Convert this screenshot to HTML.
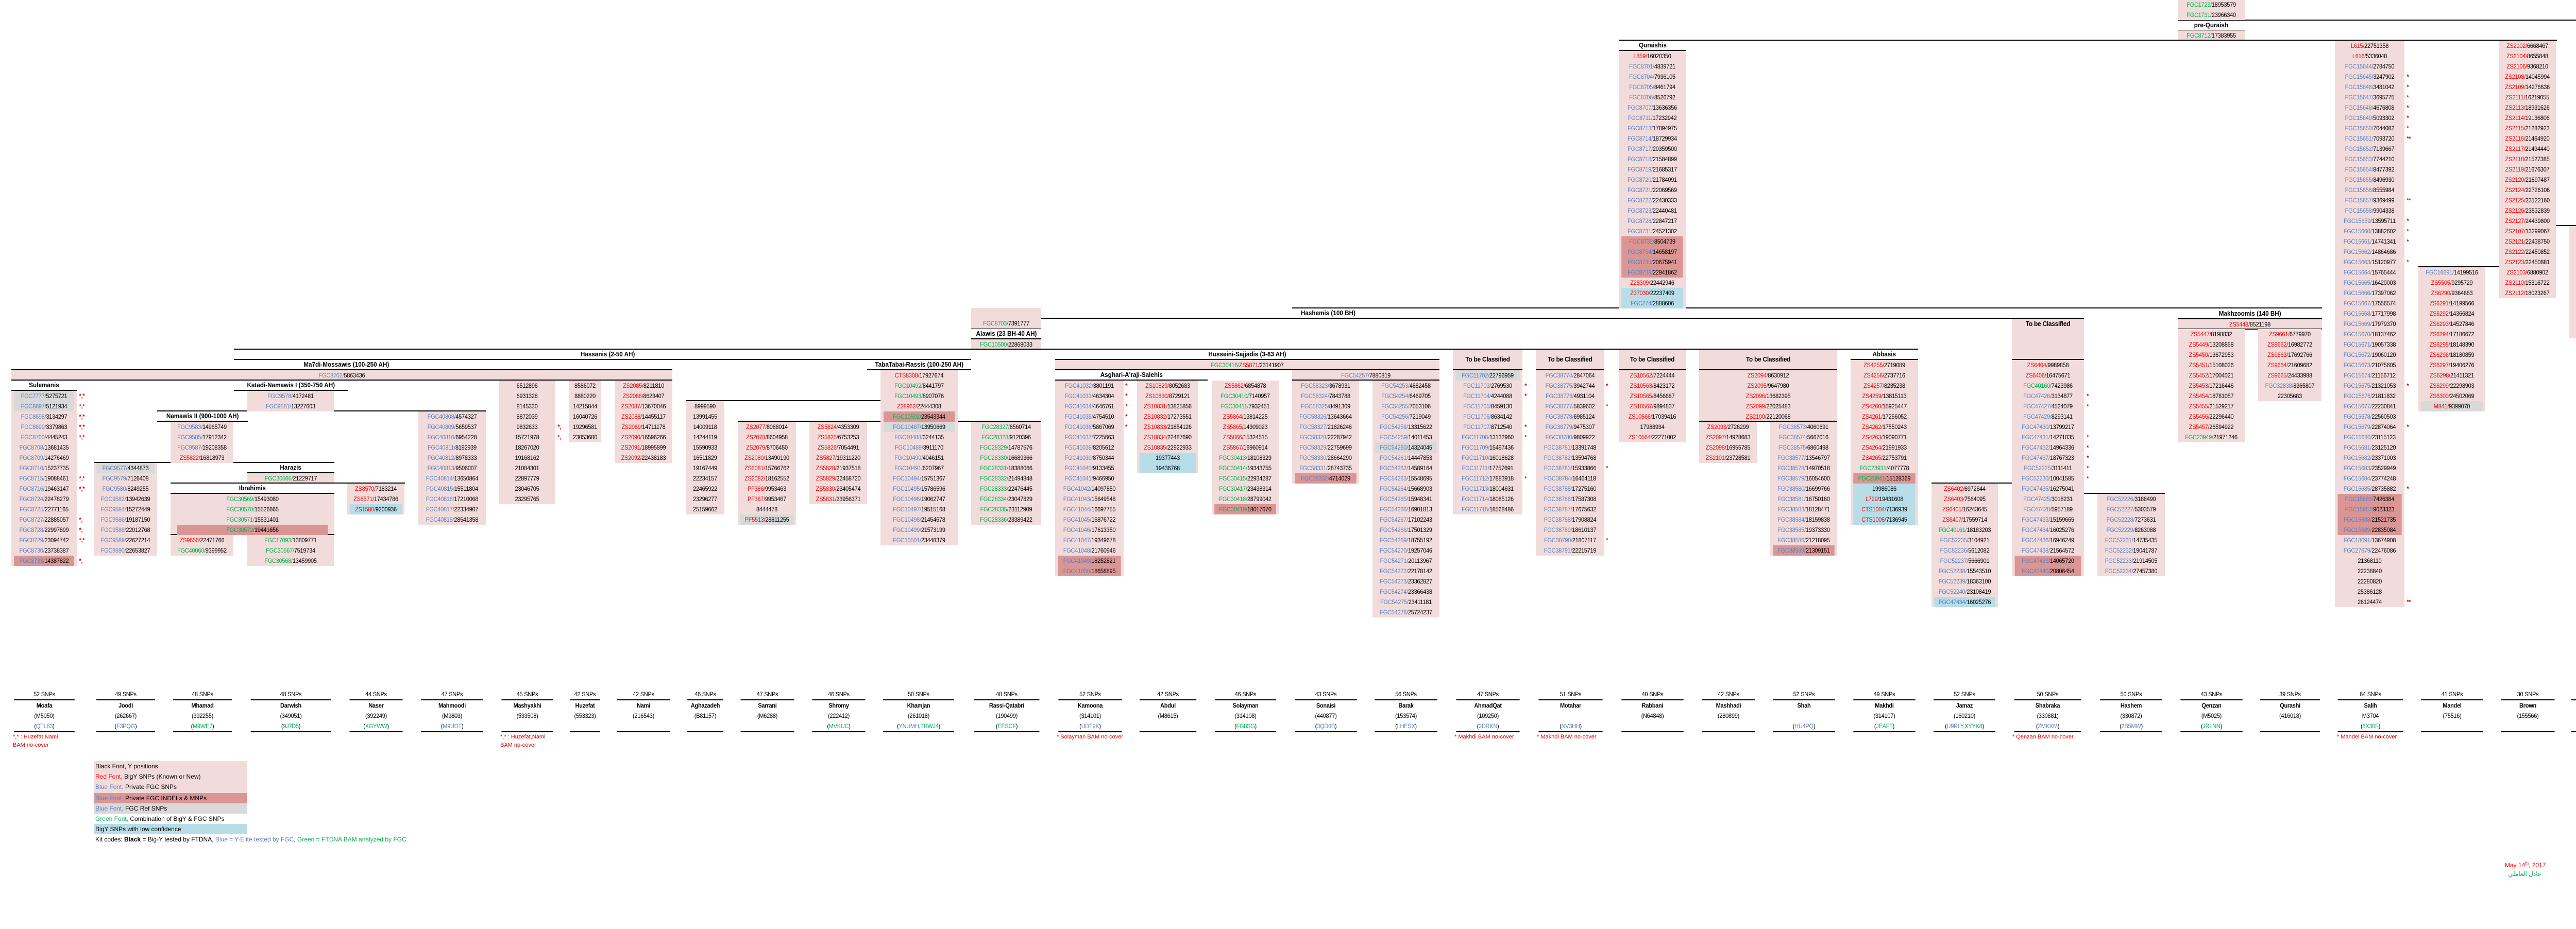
<!DOCTYPE html>
<html><head><meta charset="utf-8">
<style>
body{margin:0;width:5083px;height:1804px;background:#fff;position:relative;overflow:hidden;font-family:"Liberation Sans",Arial,sans-serif;font-size:12px;color:#000}
.c{position:absolute;background:#f2dcdb;text-align:center;white-space:nowrap}
.c div,.a div,.t div{height:20px;line-height:20px;letter-spacing:-0.3px;transform:scaleX(0.92)}
.a{position:absolute;color:#e00000;font-size:12px;font-weight:bold;white-space:nowrap}
.t{position:absolute;text-align:center;white-space:nowrap}
.b{color:#5b80bf}.r{color:#ff0000}.g{color:#00b050}
.d{background:#da9694}.y{background:#d9d9d9}.l{background:#b7dee8}
.h{position:absolute;height:2px;background:#000}
.hd{position:absolute;text-align:center;font-weight:bold;font-size:13px;height:20px;line-height:20px;white-space:nowrap}
.hd span{display:inline-block;transform:scaleX(0.9)}
.n{position:absolute;color:#e00000;font-size:11px;line-height:16px;white-space:nowrap}
</style></head><body>

<!-- horizontal lines -->
<div class="h" style="left:4227px;top:38px;width:853px"></div>
<div class="h" style="left:4227px;top:58px;width:130px"></div>
<div class="h" style="left:3142px;top:77px;width:1821px"></div>
<div class="h" style="left:3142px;top:97px;width:131px"></div>
<div class="h" style="left:2508px;top:597px;width:1999px"></div>
<div class="h" style="left:4227px;top:618px;width:280px"></div>
<div class="h" style="left:4227px;top:638px;width:280px"></div>
<div class="h" style="left:1885px;top:617px;width:2160px"></div>
<div class="h" style="left:1885px;top:637px;width:136px"></div>
<div class="h" style="left:1885px;top:657px;width:136px"></div>
<div class="h" style="left:454px;top:677px;width:3269px"></div>
<div class="h" style="left:454px;top:697px;width:1431px"></div>
<div class="h" style="left:2048px;top:697px;width:746px"></div>
<div class="h" style="left:3592px;top:697px;width:131px"></div>
<div class="h" style="left:3905px;top:697px;width:140px"></div>
<div class="h" style="left:22px;top:717px;width:1283px"></div>
<div class="h" style="left:1683px;top:717px;width:202px"></div>
<div class="h" style="left:2048px;top:717px;width:746px"></div>
<div class="h" style="left:2820px;top:717px;width:135px"></div>
<div class="h" style="left:2981px;top:717px;width:133px"></div>
<div class="h" style="left:3142px;top:717px;width:130px"></div>
<div class="h" style="left:3298px;top:717px;width:268px"></div>
<div class="h" style="left:22px;top:737px;width:1283px"></div>
<div class="h" style="left:2048px;top:737px;width:296px"></div>
<div class="h" style="left:2508px;top:737px;width:286px"></div>
<div class="h" style="left:22px;top:757px;width:127px"></div>
<div class="h" style="left:454px;top:757px;width:221px"></div>
<div class="h" style="left:1331px;top:777px;width:528px"></div>
<div class="h" style="left:305px;top:797px;width:638px"></div>
<div class="h" style="left:305px;top:817px;width:176px"></div>
<div class="h" style="left:1432px;top:817px;width:589px"></div>
<div class="h" style="left:3298px;top:817px;width:268px"></div>
<div class="h" style="left:182px;top:897px;width:467px"></div>
<div class="h" style="left:480px;top:917px;width:169px"></div>
<div class="h" style="left:331px;top:937px;width:455px"></div>
<div class="h" style="left:3749px;top:937px;width:296px"></div>
<div class="h" style="left:331px;top:957px;width:318px"></div>
<div class="h" style="left:3905px;top:957px;width:297px"></div>
<div class="h" style="left:331px;top:1037px;width:318px"></div>
<div class="h" style="left:4850px;top:437px;width:203px"></div>
<div class="h" style="left:4694px;top:517px;width:267px"></div>

<!-- header labels -->
<div class="hd" style="left:4227px;top:39px;width:130px"><span>pre-Quraish</span></div>
<div class="hd" style="left:3142px;top:78px;width:131px"><span>Quraishis</span></div>
<div class="hd" style="left:2508px;top:598px;width:140px"><span>Hashemis (100 BH)</span></div>
<div class="hd" style="left:4227px;top:599px;width:280px"><span>Makhzoomis (140 BH)</span></div>
<div class="hd" style="left:1885px;top:638px;width:136px"><span>Alawis (23 BH-40 AH)</span></div>
<div class="hd" style="left:1060px;top:678px;width:240px"><span>Hassanis (2-50 AH)</span></div>
<div class="hd" style="left:2048px;top:678px;width:746px"><span>Husseini-Sajjadis (3-83 AH)</span></div>
<div class="hd" style="left:3592px;top:678px;width:131px"><span>Abbasis</span></div>
<div class="hd" style="left:540px;top:698px;width:264px"><span>Ma7di-Mossawis (100-250 AH)</span></div>
<div class="hd" style="left:1683px;top:698px;width:202px"><span>TabaTabai-Rassis (100-250 AH)</span></div>
<div class="hd" style="left:2048px;top:718px;width:296px"><span>Asghari-A'raji-Salehis</span></div>
<div class="hd" style="left:22px;top:738px;width:127px"><span>Sulemanis</span></div>
<div class="hd" style="left:454px;top:738px;width:221px"><span>Katadi-Namawis I (350-750 AH)</span></div>
<div class="hd" style="left:305px;top:798px;width:176px"><span>Namawis II (900-1000 AH)</span></div>
<div class="hd" style="left:480px;top:898px;width:169px"><span>Harazis</span></div>
<div class="hd" style="left:331px;top:938px;width:318px"><span>Ibrahimis</span></div>

<!-- pink bands -->
<div class="c" style="left:22px;top:719px;width:1283px;height:18px"><div><span class="b">FGC8702/</span>5863436</div></div>
<div class="c" style="left:2048px;top:699px;width:746px;height:18px"><div><span class="g">FGC30416/</span><span class="r">ZS5871/</span>23141907</div></div>
<div class="c" style="left:2508px;top:719px;width:286px;height:18px"><div><span class="b">FGC54257/</span>7880819</div></div>
<div class="c" style="left:1885px;top:598px;width:136px"><div>&nbsp;</div><div><span class="g">FGC8703/</span>7391777</div></div>
<div class="c" style="left:1885px;top:659px;width:136px;height:18px"><div><span class="g">FGC10500/</span>22868033</div></div>
<div class="c" style="left:4227px;top:-1px;width:130px"><div><span class="g">FGC1723/</span>18953579</div><div><span class="g">FGC1731/</span>23966340</div></div>
<div class="c" style="left:4227px;top:59px;width:130px;height:18px"><div><span class="g">FGC8712/</span>17383955</div></div>
<div class="c" style="left:4227px;top:620px;width:280px;height:18px"><div><span class="r">ZS5448/</span>8521198</div></div>

<!-- To be classified headers (pink with label) -->
<div class="c" style="left:2820px;top:679px;width:135px;height:38px;font-weight:bold;font-size:13px"><div style="line-height:38px;height:38px">To be Classified</div></div>
<div class="c" style="left:2981px;top:679px;width:133px;height:38px;font-weight:bold;font-size:13px"><div style="line-height:38px;height:38px">To be Classified</div></div>
<div class="c" style="left:3142px;top:679px;width:130px;height:38px;font-weight:bold;font-size:13px"><div style="line-height:38px;height:38px">To be Classified</div></div>
<div class="c" style="left:3298px;top:679px;width:268px;height:38px;font-weight:bold;font-size:13px"><div style="line-height:38px;height:38px">To be Classified</div></div>
<div class="c" style="left:3905px;top:619px;width:140px;height:78px;font-weight:bold;font-size:13px"><div>To be Classified</div></div>

<!-- Sulemanis -->
<div class="c" style="left:22px;top:759px;width:127px">
<div class="y"><span class="b">FGC7777/</span>5275721</div><div class="y"><span class="b">FGC8697/</span>5121934</div>
<div><span class="b">FGC8698/</span>3134297</div><div><span class="b">FGC8699/</span>3379863</div><div><span class="b">FGC8700/</span>4445243</div>
<div><span class="b">FGC8708/</span>13681435</div><div><span class="b">FGC8709/</span>14276469</div><div><span class="b">FGC8710/</span>15237735</div>
<div><span class="b">FGC8715/</span>19088461</div><div><span class="b">FGC8716/</span>19463147</div><div><span class="b">FGC8724/</span>22478279</div>
<div><span class="b">FGC8725/</span>22771165</div><div><span class="b">FGC8727/</span>22885057</div><div><span class="b">FGC8728/</span>22997899</div>
<div><span class="b">FGC8729/</span>23094742</div><div><span class="b">FGC8730/</span>23738387</div><div class="d"><span class="b">FGC8733/</span>14387822</div></div>
<div class="a" style="left:153px;top:759px"><div>*,*</div><div>*,*</div><div>*,*</div><div>*,*</div><div>*,*</div><div>&nbsp;</div><div>&nbsp;</div><div>&nbsp;</div><div>*,*</div><div>*,*</div><div>&nbsp;</div><div>&nbsp;</div><div>*,</div><div>*,</div><div>*,*</div><div>&nbsp;</div><div>*,</div></div>

<div class="c" style="left:182px;top:899px;width:123px">
<div class="y"><span class="b">FGC9577/</span>4344873</div><div><span class="b">FGC9579/</span>7126408</div><div><span class="b">FGC9580/</span>8249255</div>
<div><span class="b">FGC9582/</span>13942639</div><div><span class="b">FGC9584/</span>15272449</div><div><span class="b">FGC9586/</span>19187150</div>
<div><span class="b">FGC9588/</span>22012768</div><div><span class="b">FGC9589/</span>22627214</div><div><span class="b">FGC9590/</span>22653827</div></div>

<div class="c" style="left:331px;top:819px;width:122px">
<div><span class="b">FGC9583/</span>14965749</div><div><span class="b">FGC9585/</span>17912342</div><div><span class="b">FGC9587/</span>19208358</div><div><span class="r">ZS5822/</span>16818973</div></div>
<div class="c" style="left:331px;top:1039px;width:122px"><div><span class="r">ZS9656/</span>22471766</div><div><span class="g">FGC40060/</span>9399952</div></div>
<div class="c" style="left:480px;top:759px;width:168px"><div><span class="b">FGC9578/</span>4172481</div><div><span class="b">FGC9581/</span>13227603</div></div>
<div class="c" style="left:480px;top:919px;width:169px;height:18px"><div><span class="g">FGC30566/</span>21229717</div></div>
<div class="c" style="left:331px;top:959px;width:318px;height:78px"><div><span class="g">FGC30569/</span>15493080</div><div><span class="g">FGC30570/</span>15526665</div><div><span class="g">FGC30571/</span>15531401</div><div class="d"><span class="g">FGC30572/</span>19441656</div></div>
<div class="c" style="left:480px;top:1039px;width:168px"><div><span class="g">FGC17093/</span>13809771</div><div><span class="g">FGC30567/</span>7519734</div><div><span class="g">FGC30568/</span>13459905</div></div>
<div class="c" style="left:674px;top:939px;width:111px"><div><span class="r">ZS8570/</span>7183214</div><div><span class="r">ZS8571/</span>17434786</div><div class="l"><span class="r">ZS1580/</span>9200936</div></div>

<div class="c" style="left:812px;top:799px;width:131px">
<div><span class="b">FGC40808/</span>4574327</div><div><span class="b">FGC40809/</span>5659537</div><div><span class="b">FGC40810/</span>6954228</div><div><span class="b">FGC40811/</span>8192939</div>
<div><span class="b">FGC40812/</span>8978333</div><div><span class="b">FGC40813/</span>9506007</div><div><span class="b">FGC40814/</span>13650864</div><div><span class="b">FGC40815/</span>15511804</div>
<div><span class="b">FGC40816/</span>17210068</div><div><span class="b">FGC40817/</span>22334907</div><div><span class="b">FGC40818/</span>28541358</div></div>

<div class="c" style="left:968px;top:739px;width:110px">
<div>6512896</div><div>6931328</div><div>8145330</div><div>8872039</div><div>9832633</div><div>15721978</div><div>18267020</div><div>19168162</div><div>21084301</div><div>22897779</div><div>23046705</div><div>23295765</div></div>
<div class="a" style="left:1082px;top:739px"><div>&nbsp;</div><div>&nbsp;</div><div>&nbsp;</div><div>&nbsp;</div><div>*,</div><div>*,</div></div>
<div class="c" style="left:1104px;top:739px;width:63px"><div>8586072</div><div>8880220</div><div>14215844</div><div>16040726</div><div>19296581</div><div>23053680</div></div>
<div class="c" style="left:1193px;top:739px;width:112px">
<div><span class="r">ZS2085/</span>8211810</div><div><span class="r">ZS2086/</span>8623407</div><div><span class="r">ZS2087/</span>13670046</div><div><span class="r">ZS2088/</span>14455117</div>
<div><span class="r">ZS2089/</span>14711178</div><div><span class="r">ZS2090/</span>16596266</div><div><span class="r">ZS2091/</span>18995899</div><div><span class="r">ZS2092/</span>22438183</div></div>
<div class="c" style="left:1331px;top:779px;width:75px">
<div>8999590</div><div>13991455</div><div>14009118</div><div>14244119</div><div>15590933</div><div>16511829</div><div>19167449</div><div>22234157</div><div>22465922</div><div>23296277</div><div>25159662</div></div>
<div class="c" style="left:1432px;top:819px;width:113px">
<div><span class="r">ZS2077/</span>8088014</div><div><span class="r">ZS2078/</span>8604958</div><div><span class="r">ZS2079/</span>8706450</div><div><span class="r">ZS2080/</span>13490190</div>
<div><span class="r">ZS2081/</span>15766762</div><div><span class="r">ZS2082/</span>18162552</div><div><span class="r">PF386/</span>9953463</div><div><span class="r">PF387/</span>9953467</div>
<div>8444478</div><div class="y"><span class="r">PF5513/</span>28811255</div></div>
<div class="c" style="left:1571px;top:819px;width:112px">
<div><span class="r">ZS5824/</span>4353309</div><div><span class="r">ZS5825/</span>6753253</div><div><span class="r">ZS5826/</span>7054491</div><div><span class="r">ZS5827/</span>19311220</div>
<div><span class="r">ZS5828/</span>21937518</div><div><span class="r">ZS5829/</span>22458720</div><div><span class="r">ZS5830/</span>23405474</div><div><span class="r">ZS5831/</span>23956371</div></div>
<div class="c" style="left:1709px;top:719px;width:150px">
<div><span class="r">CTS8308/</span>17927674</div><div><span class="g">FGC10492/</span>8441797</div><div><span class="g">FGC10493/</span>8907076</div><div><span class="r">Z28962/</span>22444308</div>
<div class="d"><span class="g">FGC10502/</span>23543344</div><div class="y"><span class="b">FGC10487/</span>13950669</div><div><span class="b">FGC10488/</span>3244135</div><div><span class="b">FGC10489/</span>3911170</div>
<div><span class="b">FGC10490/</span>4046151</div><div><span class="b">FGC10491/</span>6207967</div><div><span class="b">FGC10494/</span>15751367</div><div><span class="b">FGC10495/</span>15786596</div>
<div><span class="b">FGC10496/</span>19062747</div><div><span class="b">FGC10497/</span>19515168</div><div><span class="b">FGC10498/</span>21454678</div><div><span class="b">FGC10499/</span>21573199</div><div><span class="b">FGC10501/</span>23448379</div></div>
<div class="c" style="left:1885px;top:819px;width:136px">
<div><span class="g">FGC28327/</span>8560714</div><div><span class="g">FGC28328/</span>9120396</div><div><span class="g">FGC28329/</span>14787576</div><div><span class="g">FGC28330/</span>16689366</div>
<div><span class="g">FGC28331/</span>18388066</div><div><span class="g">FGC28332/</span>21494848</div><div><span class="g">FGC28333/</span>22476445</div><div><span class="g">FGC28334/</span>23047829</div>
<div><span class="g">FGC28335/</span>23112909</div><div><span class="g">FGC28336/</span>23389422</div></div>

<div class="c" style="left:2048px;top:739px;width:133px">
<div><span class="b">FGC41032/</span>3801191</div><div><span class="b">FGC41033/</span>4634304</div><div><span class="b">FGC41034/</span>4646761</div><div><span class="b">FGC41035/</span>4754510</div>
<div><span class="b">FGC41036/</span>5867069</div><div><span class="b">FGC41037/</span>7225663</div><div><span class="b">FGC41038/</span>8205612</div><div><span class="b">FGC41039/</span>8750344</div>
<div><span class="b">FGC41040/</span>9133455</div><div><span class="b">FGC41041/</span>9466950</div><div><span class="b">FGC41042/</span>14097850</div><div><span class="b">FGC41043/</span>15649548</div>
<div><span class="b">FGC41044/</span>16697755</div><div><span class="b">FGC41045/</span>16876722</div><div><span class="b">FGC41046/</span>17613350</div><div><span class="b">FGC41047/</span>19349678</div>
<div><span class="b">FGC41048/</span>21760946</div><div class="d"><span class="b">FGC41049/</span>18252821</div><div class="d"><span class="b">FGC41050/</span>18658895</div></div>
<div class="a" style="left:2184px;top:739px"><div>*</div><div>*</div><div>*</div><div>*</div><div>*</div></div>
<div class="c" style="left:2207px;top:739px;width:119px">
<div><span class="r">ZS10829/</span>8052683</div><div><span class="r">ZS10830/</span>8729121</div><div><span class="r">ZS10831/</span>13825856</div><div><span class="r">ZS10832/</span>17273551</div>
<div><span class="r">ZS10833/</span>21854126</div><div><span class="r">ZS10834/</span>22487690</div><div><span class="r">ZS10835/</span>22922933</div><div class="l">19377443</div><div class="l">19436768</div></div>
<div class="c" style="left:2352px;top:739px;width:130px">
<div><span class="r">ZS5862/</span>6854878</div><div><span class="g">FGC30410/</span>7140957</div><div><span class="g">FGC30411/</span>7932451</div><div><span class="r">ZS5864/</span>13814225</div>
<div><span class="r">ZS5865/</span>14309023</div><div><span class="r">ZS5866/</span>15324515</div><div><span class="r">ZS5867/</span>16960914</div><div><span class="g">FGC30413/</span>18108329</div>
<div><span class="g">FGC30414/</span>19343755</div><div><span class="g">FGC30415/</span>22934287</div><div><span class="g">FGC30417/</span>23438314</div><div><span class="g">FGC30418/</span>28799042</div><div class="d"><span class="g">FGC30419/</span>18017670</div></div>
<div class="c" style="left:2508px;top:739px;width:130px">
<div><span class="b">FGC58323/</span>3678931</div><div><span class="b">FGC58324/</span>7843788</div><div><span class="b">FGC58325/</span>8491309</div><div><span class="b">FGC58326/</span>13643664</div>
<div><span class="b">FGC58327/</span>21826246</div><div><span class="b">FGC58328/</span>22287942</div><div><span class="b">FGC58329/</span>22759699</div><div><span class="b">FGC58330/</span>28664290</div>
<div><span class="b">FGC58331/</span>28743735</div><div class="d"><span class="b">FGC58332/</span>4714029</div></div>
<div class="c" style="left:2664px;top:739px;width:130px">
<div><span class="b">FGC54253/</span>4882458</div><div><span class="b">FGC54254/</span>6469705</div><div><span class="b">FGC54255/</span>7053106</div><div><span class="b">FGC54256/</span>7219049</div>
<div><span class="b">FGC54258/</span>13315622</div><div><span class="b">FGC54259/</span>14011453</div><div class="y"><span class="b">FGC54260/</span>14324045</div><div><span class="b">FGC54261/</span>14447853</div>
<div><span class="b">FGC54262/</span>14589164</div><div><span class="b">FGC54263/</span>15548695</div><div><span class="b">FGC54264/</span>15668903</div><div><span class="b">FGC54265/</span>15948341</div>
<div><span class="b">FGC54266/</span>16901813</div><div><span class="b">FGC54267/</span>17102243</div><div><span class="b">FGC54268/</span>17501329</div><div><span class="b">FGC54269/</span>18755192</div>
<div><span class="b">FGC54270/</span>19257046</div><div><span class="b">FGC54271/</span>20113967</div><div><span class="b">FGC54272/</span>22178142</div><div><span class="b">FGC54273/</span>23362827</div>
<div><span class="b">FGC54274/</span>23366438</div><div><span class="b">FGC54275/</span>23411181</div><div><span class="b">FGC54276/</span>25724237</div></div>
<div class="c" style="left:2820px;top:719px;width:135px">
<div class="y"><span class="b">FGC11702/</span>22796959</div><div><span class="b">FGC11703/</span>2769530</div><div><span class="b">FGC11704/</span>4244088</div><div><span class="b">FGC11705/</span>8459130</div>
<div><span class="b">FGC11706/</span>8634142</div><div><span class="b">FGC11707/</span>8712540</div><div><span class="b">FGC11708/</span>13132960</div><div><span class="b">FGC11709/</span>15497436</div>
<div><span class="b">FGC11710/</span>16018628</div><div><span class="b">FGC11711/</span>17757691</div><div><span class="b">FGC11712/</span>17883918</div><div><span class="b">FGC11713/</span>18004631</div>
<div><span class="b">FGC11714/</span>18085126</div><div><span class="b">FGC11715/</span>18568486</div></div>
<div class="a" style="left:2959px;top:719px"><div>&nbsp;</div><div>*</div><div>*</div><div>&nbsp;</div><div>&nbsp;</div><div>*</div><div>*</div><div>&nbsp;</div><div>&nbsp;</div><div>&nbsp;</div><div>*</div></div>
<div class="c" style="left:2981px;top:719px;width:133px">
<div><span class="b">FGC38774/</span>2847064</div><div><span class="b">FGC38775/</span>3942744</div><div><span class="b">FGC38776/</span>4931104</div><div><span class="b">FGC38777/</span>5839602</div>
<div><span class="b">FGC38778/</span>6985124</div><div><span class="b">FGC38779/</span>9475307</div><div><span class="b">FGC38780/</span>9809922</div><div><span class="b">FGC38781/</span>13391748</div>
<div><span class="b">FGC38782/</span>13594768</div><div><span class="b">FGC38783/</span>15933866</div><div><span class="b">FGC38784/</span>16464118</div><div><span class="b">FGC38785/</span>17275160</div>
<div><span class="b">FGC38786/</span>17587308</div><div><span class="b">FGC38787/</span>17675632</div><div><span class="b">FGC38788/</span>17908824</div><div><span class="b">FGC38789/</span>18610137</div>
<div><span class="b">FGC38790/</span>21807117</div><div><span class="b">FGC38791/</span>22215719</div></div>
<div class="a" style="left:3117px;top:719px"><div>&nbsp;</div><div>*</div><div>&nbsp;</div><div>*</div><div>&nbsp;</div><div>&nbsp;</div><div>&nbsp;</div><div>&nbsp;</div><div>&nbsp;</div><div>*</div><div>&nbsp;</div><div>&nbsp;</div><div>&nbsp;</div><div>&nbsp;</div><div>&nbsp;</div><div>&nbsp;</div><div>*</div></div>

<div class="c" style="left:3142px;top:99px;width:130px">
<div><span class="r">L859/</span>16020350</div><div><span class="b">FGC8701/</span>4839721</div><div><span class="b">FGC8704/</span>7936105</div><div><span class="b">FGC8705/</span>8461794</div>
<div><span class="b">FGC8706/</span>8526792</div><div><span class="b">FGC8707/</span>13636356</div><div><span class="b">FGC8711/</span>17232942</div><div><span class="b">FGC8713/</span>17894975</div>
<div><span class="b">FGC8714/</span>18729934</div><div><span class="b">FGC8717/</span>20359500</div><div><span class="b">FGC8718/</span>21584899</div><div><span class="b">FGC8719/</span>21685317</div>
<div><span class="b">FGC8720/</span>21784091</div><div><span class="b">FGC8721/</span>22069569</div><div><span class="b">FGC8722/</span>22430333</div><div><span class="b">FGC8723/</span>22440481</div>
<div><span class="b">FGC8726/</span>22847217</div><div><span class="b">FGC8731/</span>24521302</div><div class="d"><span class="b">FGC8732/</span>8504739</div><div class="d"><span class="b">FGC8734/</span>14658197</div>
<div class="d"><span class="b">FGC8735/</span>20675941</div><div class="d"><span class="b">FGC8736/</span>22941862</div><div><span class="r">Z28309/</span>22442946</div><div class="l"><span class="r">Z37030/</span>22237409</div><div class="l"><span class="b">FGC274/</span>2888606</div></div>

<div class="c" style="left:3142px;top:719px;width:130px">
<div><span class="r">ZS10562/</span>7224444</div><div><span class="r">ZS10563/</span>8423172</div><div><span class="r">ZS10565/</span>8456687</div><div><span class="r">ZS10567/</span>9894837</div>
<div><span class="r">ZS10566/</span>17039416</div><div>17988934</div><div><span class="r">ZS10564/</span>22271002</div></div>
<div class="c" style="left:3298px;top:719px;width:268px;height:98px">
<div><span class="r">ZS2094/</span>8630912</div><div><span class="r">ZS2095/</span>9647980</div><div><span class="r">ZS2096/</span>13682395</div><div><span class="r">ZS2099/</span>22025483</div><div><span class="r">ZS2100/</span>22120068</div></div>
<div class="c" style="left:3298px;top:819px;width:112px">
<div><span class="r">ZS2093/</span>2726299</div><div><span class="r">ZS2097/</span>14928683</div><div><span class="r">ZS2098/</span>16955785</div><div><span class="r">ZS2101/</span>23728581</div></div>
<div class="c" style="left:3436px;top:819px;width:130px">
<div><span class="b">FGC38573/</span>4060691</div><div><span class="b">FGC38574/</span>5667016</div><div><span class="b">FGC38575/</span>6860498</div><div><span class="b">FGC38577/</span>13546797</div>
<div><span class="b">FGC38578/</span>14970518</div><div><span class="b">FGC38579/</span>16054600</div><div><span class="b">FGC38580/</span>16699766</div><div><span class="b">FGC38581/</span>16750160</div>
<div><span class="b">FGC38583/</span>18128471</div><div><span class="b">FGC38584/</span>18159838</div><div><span class="b">FGC38585/</span>19373330</div><div><span class="b">FGC38586/</span>21218095</div><div class="d"><span class="b">FGC38589/</span>21309151</div></div>
<div class="c" style="left:3592px;top:699px;width:131px">
<div><span class="r">ZS4255/</span>2719089</div><div><span class="r">ZS4256/</span>2737716</div><div><span class="r">ZS4257/</span>8235238</div><div><span class="r">ZS4259/</span>13815113</div>
<div><span class="r">ZS4260/</span>15925447</div><div><span class="r">ZS4261/</span>17256052</div><div><span class="r">ZS4262/</span>17550243</div><div><span class="r">ZS4263/</span>19090771</div>
<div><span class="r">ZS4264/</span>21991933</div><div><span class="r">ZS4265/</span>22753791</div><div><span class="g">FGC23931/</span>4077778</div><div class="d"><span class="g">FGC23941/</span>15128369</div>
<div class="l">19986086</div><div class="l"><span class="r">L729/</span>19431608</div><div class="l"><span class="r">CTS1004/</span>7136939</div><div class="l"><span class="r">CTS1005/</span>7136945</div></div>
<div class="c" style="left:3905px;top:699px;width:140px">
<div><span class="r">ZS6404/</span>9989858</div><div><span class="r">ZS6406/</span>16475671</div><div><span class="g">FGC40160/</span>7423986</div><div><span class="b">FGC47426/</span>3134877</div>
<div><span class="b">FGC47427/</span>4524079</div><div><span class="b">FGC47429/</span>8293141</div><div><span class="b">FGC47430/</span>13799217</div><div><span class="b">FGC47431/</span>14271035</div>
<div><span class="b">FGC47432/</span>14964336</div><div><span class="b">FGC47437/</span>18767323</div><div><span class="b">FGC52225/</span>3111411</div><div><span class="b">FGC52230/</span>10041585</div>
<div><span class="b">FGC47435/</span>16275041</div></div>
<div class="a" style="left:4050px;top:699px"><div>&nbsp;</div><div>&nbsp;</div><div>&nbsp;</div><div>*</div><div>*</div><div>&nbsp;</div><div>&nbsp;</div><div>*</div><div>*</div><div>*</div><div>*</div><div>*</div></div>
<div class="c" style="left:3749px;top:939px;width:129px">
<div><span class="r">ZS6402/</span>6972644</div><div><span class="r">ZS6403/</span>7564095</div><div><span class="r">ZS6405/</span>16243645</div><div><span class="r">ZS6407/</span>17559714</div>
<div><span class="g">FGC40161/</span>18183203</div><div><span class="b">FGC52235/</span>3104921</div><div><span class="b">FGC52236/</span>5612082</div><div><span class="b">FGC52237/</span>5666901</div>
<div><span class="b">FGC52238/</span>15543510</div><div><span class="b">FGC52239/</span>18363100</div><div><span class="b">FGC52240/</span>23108419</div><div class="l"><span class="b">FGC47434/</span>16025276</div></div>
<div class="c" style="left:3905px;top:959px;width:140px">
<div><span class="b">FGC47425/</span>3018231</div><div><span class="b">FGC47428/</span>5957189</div><div><span class="b">FGC47433/</span>15159665</div><div><span class="b">FGC47434/</span>16025276</div>
<div><span class="b">FGC47436/</span>16946249</div><div><span class="b">FGC47438/</span>21564572</div><div class="d"><span class="b">FGC47439/</span>14065720</div><div class="d"><span class="b">FGC47440/</span>20806454</div></div>
<div class="c" style="left:4071px;top:959px;width:131px">
<div><span class="b">FGC52226/</span>3188490</div><div><span class="b">FGC52227/</span>5303579</div><div><span class="b">FGC52228/</span>7273631</div><div><span class="b">FGC52229/</span>8263088</div>
<div><span class="b">FGC52231/</span>14735435</div><div><span class="b">FGC52232/</span>19041787</div><div><span class="b">FGC52233/</span>21914505</div><div><span class="b">FGC52234/</span>27457380</div></div>

<div class="c" style="left:4227px;top:639px;width:130px">
<div><span class="r">ZS5447/</span>8198832</div><div><span class="r">ZS5449/</span>13208858</div><div><span class="r">ZS5450/</span>13672953</div><div><span class="r">ZS5451/</span>15108026</div>
<div><span class="r">ZS5452/</span>17004021</div><div><span class="r">ZS5453/</span>17216446</div><div><span class="r">ZS5454/</span>18781057</div><div><span class="r">ZS5455/</span>21529217</div>
<div><span class="r">ZS5456/</span>22296440</div><div><span class="r">ZS5457/</span>26594922</div><div><span class="g">FGC23949/</span>21971246</div></div>
<div class="c" style="left:4383px;top:639px;width:123px">
<div><span class="r">ZS9661/</span>6779970</div><div><span class="r">ZS9662/</span>16982772</div><div><span class="r">ZS9663/</span>17692766</div><div><span class="r">ZS9664/</span>21609682</div>
<div><span class="r">ZS9665/</span>24433988</div><div><span class="b">FGC32838/</span>8365807</div><div>22305683</div></div>

<div class="c" style="left:4532px;top:79px;width:135px">
<div><span class="r">L615/</span>22751358</div><div><span class="r">L616/</span>5336048</div>
<div><span class="b">FGC15644/</span>2784750</div><div><span class="b">FGC15645/</span>3247902</div><div><span class="b">FGC15646/</span>3481042</div><div><span class="b">FGC15647/</span>3695775</div>
<div><span class="b">FGC15648/</span>4676808</div><div><span class="b">FGC15649/</span>5093302</div><div><span class="b">FGC15650/</span>7044082</div><div><span class="b">FGC15651/</span>7093720</div>
<div><span class="b">FGC15652/</span>7139667</div><div><span class="b">FGC15653/</span>7744210</div><div><span class="b">FGC15654/</span>8477392</div><div><span class="b">FGC15655/</span>8496930</div>
<div><span class="b">FGC15656/</span>8555984</div><div><span class="b">FGC15657/</span>9369499</div><div><span class="b">FGC15658/</span>9904338</div><div><span class="b">FGC15659/</span>13595711</div>
<div><span class="b">FGC15660/</span>13882602</div><div><span class="b">FGC15661/</span>14741341</div><div><span class="b">FGC15662/</span>14864686</div><div><span class="b">FGC15663/</span>15120977</div>
<div><span class="b">FGC15664/</span>15765444</div><div><span class="b">FGC15665/</span>16420003</div><div><span class="b">FGC15666/</span>17397062</div><div><span class="b">FGC15667/</span>17556574</div>
<div><span class="b">FGC15668/</span>17717998</div><div><span class="b">FGC15669/</span>17979370</div><div><span class="b">FGC15670/</span>18137462</div><div><span class="b">FGC15671/</span>19057338</div>
<div><span class="b">FGC15672/</span>19060120</div><div><span class="b">FGC15673/</span>21075605</div><div><span class="b">FGC15674/</span>21156712</div><div><span class="b">FGC15675/</span>21321053</div>
<div><span class="b">FGC15676/</span>21811832</div><div><span class="b">FGC15677/</span>22230841</div><div><span class="b">FGC15678/</span>22560503</div><div><span class="b">FGC15679/</span>22874064</div>
<div><span class="b">FGC15680/</span>23115123</div><div><span class="b">FGC15681/</span>23125120</div><div><span class="b">FGC15682/</span>23371003</div><div><span class="b">FGC15683/</span>23529949</div>
<div><span class="b">FGC15684/</span>23774248</div><div><span class="b">FGC15685/</span>28735882</div>
<div class="d"><span class="b">FGC15686/</span>7426384</div><div class="d"><span class="b">FGC15687/</span>9023323</div><div class="d"><span class="b">FGC15688/</span>21521735</div><div class="d"><span class="b">FGC15689/</span>22835084</div>
<div><span class="b">FGC18091/</span>13674908</div><div><span class="b">FGC27679/</span>22476086</div><div>21368110</div><div>22238840</div><div>22280820</div><div>25386128</div><div>26124474</div></div>
<div class="a" style="left:4671px;top:79px">
<div>&nbsp;</div><div>&nbsp;</div><div>&nbsp;</div><div>*</div><div>*</div><div>*</div><div>*</div><div>*</div><div>*</div><div>**</div>
<div>&nbsp;</div><div>&nbsp;</div><div>&nbsp;</div><div>&nbsp;</div><div>&nbsp;</div><div>**</div><div>&nbsp;</div><div>*</div><div>*</div><div>*</div><div>&nbsp;</div><div>*</div>
<div>&nbsp;</div><div>&nbsp;</div><div>&nbsp;</div><div>&nbsp;</div><div>&nbsp;</div><div>&nbsp;</div><div>&nbsp;</div><div>&nbsp;</div><div>&nbsp;</div><div>&nbsp;</div><div>&nbsp;</div><div>*</div>
<div>&nbsp;</div><div>&nbsp;</div><div>&nbsp;</div><div>*</div><div>&nbsp;</div><div>&nbsp;</div><div>&nbsp;</div><div>&nbsp;</div><div>&nbsp;</div><div>*</div>
<div>&nbsp;</div><div>&nbsp;</div><div>&nbsp;</div><div>&nbsp;</div><div>&nbsp;</div><div>&nbsp;</div><div>&nbsp;</div><div>&nbsp;</div><div>&nbsp;</div><div>&nbsp;</div><div>**</div></div>
<div class="c" style="left:4694px;top:519px;width:130px">
<div><span class="b">FGC16691/</span>14199516</div><div><span class="r">ZS5505/</span>9295729</div><div><span class="r">ZS6290/</span>9364663</div><div><span class="r">ZS6291/</span>14199566</div>
<div><span class="r">ZS6292/</span>14366824</div><div><span class="r">ZS6293/</span>14527846</div><div><span class="r">ZS6294/</span>17186672</div><div><span class="r">ZS6295/</span>18148390</div>
<div><span class="r">ZS6296/</span>18180859</div><div><span class="r">ZS6297/</span>19406276</div><div><span class="r">ZS6298/</span>21411321</div><div><span class="r">ZS6299/</span>22298903</div>
<div><span class="r">ZS6300/</span>24502069</div><div class="y"><span class="r">M841/</span>9399070</div></div>
<div class="c" style="left:4850px;top:79px;width:111px">
<div><span class="r">ZS2102/</span>6668467</div><div><span class="r">ZS2104/</span>8655848</div><div><span class="r">ZS2106/</span>9368210</div><div><span class="r">ZS2108/</span>14045994</div>
<div><span class="r">ZS2109/</span>14276636</div><div><span class="r">ZS2111/</span>16219055</div><div><span class="r">ZS2113/</span>18931626</div><div><span class="r">ZS2114/</span>19136806</div>
<div><span class="r">ZS2115/</span>21282923</div><div><span class="r">ZS2116/</span>21464920</div><div><span class="r">ZS2117/</span>21494440</div><div><span class="r">ZS2118/</span>21527385</div>
<div><span class="r">ZS2119/</span>21676307</div><div><span class="r">ZS2120/</span>21897487</div><div><span class="r">ZS2124/</span>22726106</div><div><span class="r">ZS2125/</span>23122160</div>
<div><span class="r">ZS2126/</span>23532839</div><div><span class="r">ZS2127/</span>24439800</div>
<div><span class="r">ZS2107/</span>13299067</div><div><span class="r">ZS2121/</span>22438750</div><div><span class="r">ZS2122/</span>22450852</div><div><span class="r">ZS2123/</span>22450881</div>
<div><span class="r">ZS2103/</span>6880902</div><div><span class="r">ZS2110/</span>15316722</div><div><span class="r">ZS2112/</span>18023267</div></div>
<div class="c" style="left:4987px;top:439px;width:66px;height:218px"></div>

<!-- bottom labels -->
<div class="t" style="left:22px;top:1338px;width:128px"><div>52 SNPs</div><div style="border-top:2px solid #000;font-weight:bold">Moafa</div><div>(M5050)</div><div style="border-bottom:2px solid #000">(<span class="b">QTL63</span>)</div></div>
<div class="t" style="left:182px;top:1338px;width:124px"><div>49 SNPs</div><div style="border-top:2px solid #000;font-weight:bold">Joodi</div><div>(<s>262667</s>)</div><div style="border-bottom:2px solid #000">(<span class="b">F3PQG</span>)</div></div>
<div class="t" style="left:331px;top:1338px;width:124px"><div>48 SNPs</div><div style="border-top:2px solid #000;font-weight:bold">Mhamad</div><div>(392255)</div><div style="border-bottom:2px solid #000">(<span class="g">M9WE7</span>)</div></div>
<div class="t" style="left:480px;top:1338px;width:169px"><div>48 SNPs</div><div style="border-top:2px solid #000;font-weight:bold">Darwish</div><div>(349051)</div><div style="border-bottom:2px solid #000">(<span class="g">9J7D5</span>)</div></div>
<div class="t" style="left:674px;top:1338px;width:112px"><div>44 SNPs</div><div style="border-top:2px solid #000;font-weight:bold">Naser</div><div>(392249)</div><div style="border-bottom:2px solid #000">(<span class="g">XGYWW</span>)</div></div>
<div class="t" style="left:812px;top:1338px;width:131px"><div>47 SNPs</div><div style="border-top:2px solid #000;font-weight:bold">Mahmoodi</div><div>(<s>M9803</s>)</div><div style="border-bottom:2px solid #000">(<span class="b">M9UDT</span>)</div></div>
<div class="t" style="left:969px;top:1338px;width:109px"><div>45 SNPs</div><div style="border-top:2px solid #000;font-weight:bold">Mashyakhi</div><div>(533508)</div><div style="border-bottom:2px solid #000">&nbsp;</div></div>
<div class="t" style="left:1104px;top:1338px;width:63px"><div>42 SNPs</div><div style="border-top:2px solid #000;font-weight:bold">Huzefat</div><div>(553323)</div><div style="border-bottom:2px solid #000">&nbsp;</div></div>
<div class="t" style="left:1193px;top:1338px;width:112px"><div>42 SNPs</div><div style="border-top:2px solid #000;font-weight:bold">Nami</div><div>(216543)</div><div style="border-bottom:2px solid #000">&nbsp;</div></div>
<div class="t" style="left:1331px;top:1338px;width:76px"><div>46 SNPs</div><div style="border-top:2px solid #000;font-weight:bold">Aghazadeh</div><div>(B81157)</div><div style="border-bottom:2px solid #000">&nbsp;</div></div>
<div class="t" style="left:1433px;top:1338px;width:113px"><div>47 SNPs</div><div style="border-top:2px solid #000;font-weight:bold">Sarrani</div><div>(M6288)</div><div style="border-bottom:2px solid #000">&nbsp;</div></div>
<div class="t" style="left:1572px;top:1338px;width:112px"><div>46 SNPs</div><div style="border-top:2px solid #000;font-weight:bold">Shromy</div><div>(222412)</div><div style="border-bottom:2px solid #000">(<span class="g">MVKUC</span>)</div></div>
<div class="t" style="left:1708px;top:1338px;width:150px"><div>50 SNPs</div><div style="border-top:2px solid #000;font-weight:bold">Khamjan</div><div>(261018)</div><div style="border-bottom:2px solid #000">(<span class="b">YNUMH</span>,<span class="g">TRWJ4</span>)</div></div>
<div class="t" style="left:1885px;top:1338px;width:138px"><div>48 SNPs</div><div style="border-top:2px solid #000;font-weight:bold">Rassi-Qatabri</div><div>(190499)</div><div style="border-bottom:2px solid #000">(<span class="g">EESCF</span>)</div></div>
<div class="t" style="left:2049px;top:1338px;width:134px"><div>52 SNPs</div><div style="border-top:2px solid #000;font-weight:bold">Kamoona</div><div>(314101)</div><div style="border-bottom:2px solid #000">(<span class="b">UDT9K</span>)</div></div>
<div class="t" style="left:2207px;top:1338px;width:120px"><div>42 SNPs</div><div style="border-top:2px solid #000;font-weight:bold">Abdul</div><div>(M8615)</div><div style="border-bottom:2px solid #000">&nbsp;</div></div>
<div class="t" style="left:2353px;top:1338px;width:129px"><div>46 SNPs</div><div style="border-top:2px solid #000;font-weight:bold">Solayman</div><div>(314108)</div><div style="border-bottom:2px solid #000">(<span class="g">FG8SG</span>)</div></div>
<div class="t" style="left:2508px;top:1338px;width:131px"><div>43 SNPs</div><div style="border-top:2px solid #000;font-weight:bold">Sonaisi</div><div>(440877)</div><div style="border-bottom:2px solid #000">(<span class="b">3QD6B</span>)</div></div>
<div class="t" style="left:2663px;top:1338px;width:132px"><div>56 SNPs</div><div style="border-top:2px solid #000;font-weight:bold">Barak</div><div>(153574)</div><div style="border-bottom:2px solid #000">(<span class="b">LHESX</span>)</div></div>
<div class="t" style="left:2821px;top:1338px;width:134px"><div>47 SNPs</div><div style="border-top:2px solid #000;font-weight:bold">AhmadQat</div><div>(<s>109250</s>)</div><div style="border-bottom:2px solid #000">(<span class="b">2DRKN</span>)</div></div>
<div class="t" style="left:2981px;top:1338px;width:135px"><div>51 SNPs</div><div style="border-top:2px solid #000;font-weight:bold">Motahar</div><div>&nbsp;</div><div style="border-bottom:2px solid #000">(<span class="b">NV3HH</span>)</div></div>
<div class="t" style="left:3142px;top:1338px;width:131px"><div>40 SNPs</div><div style="border-top:2px solid #000;font-weight:bold">Rabbani</div><div>(N64848)</div><div style="border-bottom:2px solid #000">&nbsp;</div></div>
<div class="t" style="left:3299px;top:1338px;width:112px"><div>42 SNPs</div><div style="border-top:2px solid #000;font-weight:bold">Mashhadi</div><div>(280899)</div><div style="border-bottom:2px solid #000">&nbsp;</div></div>
<div class="t" style="left:3436px;top:1338px;width:131px"><div>52 SNPs</div><div style="border-top:2px solid #000;font-weight:bold">Shah</div><div>&nbsp;</div><div style="border-bottom:2px solid #000">(<span class="b">HU4PQ</span>)</div></div>
<div class="t" style="left:3592px;top:1338px;width:131px"><div>49 SNPs</div><div style="border-top:2px solid #000;font-weight:bold">Makhdi</div><div>(314107)</div><div style="border-bottom:2px solid #000">(<span class="g">JEAFT</span>)</div></div>
<div class="t" style="left:3748px;top:1338px;width:130px"><div>52 SNPs</div><div style="border-top:2px solid #000;font-weight:bold">Jamaz</div><div>(160210)</div><div style="border-bottom:2px solid #000">(<span class="b">U9RLY</span>,<span class="g">XYYK8</span>)</div></div>
<div class="t" style="left:3904px;top:1338px;width:141px"><div>50 SNPs</div><div style="border-top:2px solid #000;font-weight:bold">Shabraka</div><div>(330881)</div><div style="border-bottom:2px solid #000">(<span class="b">ZMKKM</span>)</div></div>
<div class="t" style="left:4071px;top:1338px;width:131px"><div>50 SNPs</div><div style="border-top:2px solid #000;font-weight:bold">Hashem</div><div>(330872)</div><div style="border-bottom:2px solid #000">(<span class="b">2B5MW</span>)</div></div>
<div class="t" style="left:4227px;top:1338px;width:131px"><div>43 SNPs</div><div style="border-top:2px solid #000;font-weight:bold">Qenzan</div><div>(M5025)</div><div style="border-bottom:2px solid #000">(<span class="g">JRLNN</span>)</div></div>
<div class="t" style="left:4382px;top:1338px;width:126px"><div>39 SNPs</div><div style="border-top:2px solid #000;font-weight:bold">Qurashi</div><div>(416018)</div><div style="border-bottom:2px solid #000">&nbsp;</div></div>
<div class="t" style="left:4532px;top:1338px;width:138px"><div>64 SNPs</div><div style="border-top:2px solid #000;font-weight:bold">Salih</div><div>M3704</div><div style="border-bottom:2px solid #000">(<span class="g">8X30F</span>)</div></div>
<div class="t" style="left:4694px;top:1338px;width:131px"><div>41 SNPs</div><div style="border-top:2px solid #000;font-weight:bold">Mandel</div><div>(75516)</div><div style="border-bottom:2px solid #000">&nbsp;</div></div>
<div class="t" style="left:4850px;top:1338px;width:113px"><div>30 SNPs</div><div style="border-top:2px solid #000;font-weight:bold">Brown</div><div>(155566)</div><div style="border-bottom:2px solid #000">&nbsp;</div></div>
<div class="t" style="left:4988px;top:1338px;width:66px"><div>? SNPs</div><div style="border-top:2px solid #000;font-weight:bold">Lowell</div><div>(343472)</div><div style="border-bottom:2px solid #000">&nbsp;</div></div>

<!-- notes -->
<div class="n" style="left:25px;top:1423px">*,* : Huzefat,Nami<br>BAM no-cover</div>
<div class="n" style="left:971px;top:1423px">*,* : Huzefat,Nami<br>BAM no-cover</div>
<div class="n" style="left:2051px;top:1423px">* Solayman BAM no-cover</div>
<div class="n" style="left:2823px;top:1423px">* Makhdi BAM no-cover</div>
<div class="n" style="left:2983px;top:1423px">* Makhdi BAM no-cover</div>
<div class="n" style="left:3906px;top:1423px">* Qenzan BAM no-cover</div>
<div class="n" style="left:4536px;top:1423px">* Mandel BAM no-cover</div>

<!-- legend -->
<div style="position:absolute;left:182px;top:1478px;width:298px;font-size:12px;line-height:20px;white-space:nowrap">
<div style="background:#f2dcdb;padding-left:3px;height:20px">Black Font, Y positions</div>
<div style="background:#f2dcdb;padding-left:3px;height:20px"><span class="r">Red Font,</span> BigY SNPs (Known or New)</div>
<div style="background:#f2dcdb;padding-left:3px;height:22px"><span class="b">Blue Font,</span> Private FGC SNPs</div>
<div style="background:#da9694;padding-left:3px;height:20px"><span class="b">Blue Font,</span> Private FGC INDELs &amp; MNPs</div>
<div style="background:#d9d9d9;padding-left:3px;height:20px"><span class="b">Blue Font,</span> FGC Ref SNPs</div>
<div style="padding-left:3px;height:20px"><span class="g">Green Font,</span> Combination of BigY &amp; FGC SNPs</div>
<div style="background:#b7dee8;padding-left:3px;height:20px">BigY SNPs with low confidence</div>
<div style="padding-left:3px;height:20px">Kit codes: <b>Black</b> = Big-Y tested by FTDNA, <span class="b">Blue = Y-Elite tested by FGC</span>, <span class="g">Green = FTDNA BAM analyzed by FGC</span></div>
</div>

<div style="position:absolute;left:4862px;top:1672px;color:#ff0000;font-size:12px">May 14<sup style="font-size:8px">th</sup>, 2017</div>
<div style="position:absolute;left:4868px;top:1690px;color:#00b050;font-size:12px;font-family:'Liberation Sans','DejaVu Sans',sans-serif">عادل العاملي</div>

</body></html>
